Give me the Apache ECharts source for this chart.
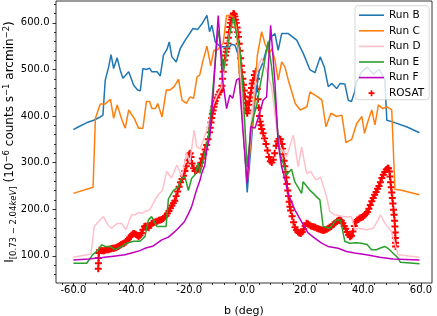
<!DOCTYPE html>
<html><head><meta charset="utf-8">
<script src="https://cdn.jsdelivr.net/npm/echarts@6/dist/echarts.min.js"></script>
<style>html,body{margin:0;padding:0;background:#fff}#c{width:437px;height:316px}</style>
</head><body><div id="c"></div>
<script>
const seriesNames = ['Run B','Run C','Run D','Run E','Run F','ROSAT'];
const xMajorTicks = [-60,-40,-20,0,20,40,60];
const xMinorTicks = [-64,-56,-52,-48,-44,-36,-32,-28,-24,-16,-12,-8,-4,4,8,12,16,24,28,32,36,44,48,52,56];
const yMajorTicks = [100,200,300,400,500,600];
const yMinorTicks = [60,80,120,140,160,180,220,240,260,280,320,340,360,380,420,440,460,480,520,540,560,580,620,640];
const xTitle = 'b (deg)';
const yTitle = '{m|I}{s|[0.73 \u2212 2.04}{si|keV}{s|]}{m| (10}{p|\u22126}{m| counts s}{p|\u22121}{m| arcmin}{p|\u22122}{m|)}';

const runB = [[-60,371],[-58.2,377],[-55.3,386],[-53,391],[-50.7,398],[-49.8,402],[-49,477],[-47.8,506],[-47,532],[-46.1,502],[-44.9,525],[-43.8,498],[-42.9,481],[-40.9,495],[-39.2,466],[-37.8,456],[-36.9,454],[-36,502],[-34.8,500],[-33.7,503],[-32.9,495],[-31.1,495],[-30,486],[-28.9,531],[-27.7,543],[-26.9,559],[-26,527],[-24.5,516],[-23.1,545],[-21.4,563],[-18.7,588],[-17.1,586],[-15.6,598],[-13.9,616],[-13,581],[-12.2,595],[-11,559],[-9.3,549],[-7.6,549],[-6,549],[-5.4,554],[-4.2,552],[-3.1,531],[-1.9,434],[0,236],[1.5,349],[2.7,434],[4.1,495],[5.5,516],[6.9,549],[8.2,570],[9.6,577],[10.7,541],[11.9,577],[13,577],[14.2,577],[17.1,563],[19.4,534],[21.7,499],[23.4,493],[25.2,527],[26.6,506],[28,463],[29.2,470],[30.9,459],[32.1,470],[33.7,469],[34.9,434],[36,431],[37.1,452],[37.7,473],[39.5,495],[41.5,505],[43.5,490],[45.5,500],[47.5,480],[48.2,391],[49.9,388],[55,377],[59.5,364]];
const runC = [[-60,234],[-53.2,247],[-52.4,395],[-50.7,426],[-49,426],[-47.2,436],[-46.1,395],[-44.9,424],[-43.2,391],[-42.1,374],[-40.9,413],[-39,395],[-37.5,374],[-36,374],[-34.8,431],[-33.7,431],[-32.9,416],[-31.7,416],[-30.9,427],[-29.4,398],[-27.9,456],[-26.6,456],[-25.2,463],[-23.7,479],[-22.5,434],[-21,427],[-19.7,441],[-18.5,438],[-17.3,484],[-16.4,488],[-15.3,518],[-13.9,550],[-12.6,508],[-11.5,541],[-10.4,541],[-8.3,556],[-7.1,616],[-6,616],[-4.8,613],[-3.7,591],[-2.2,440],[0,260],[2,400],[3.5,530],[5,581],[6.1,556],[7.6,534],[8.5,545],[9.6,520],[10.7,477],[11.9,516],[13,506],[14.2,477],[16.6,427],[18.3,413],[20.6,420],[21.7,452],[23.4,445],[24.6,440],[25.8,434],[27.2,377],[28.9,406],[30.9,399],[32.7,402],[34.1,343],[36.1,350],[37.8,384],[39.6,399],[40.5,363],[41.8,391],[43,413],[44.1,381],[45.3,424],[46.8,416],[48.2,420],[49.9,413],[51,243],[52.8,241],[59.5,231]];
const runD = [[-60,97],[-53.9,104],[-52.8,163],[-51.4,173],[-49.6,184],[-48.1,166],[-46.8,159],[-45,169],[-43.3,169],[-41.9,156],[-39.9,188],[-38.7,188],[-37.6,193],[-36.2,191],[-35.3,195],[-33.6,199],[-31.8,220],[-30.7,231],[-29.3,240],[-27.8,281],[-26.1,267],[-24.3,295],[-22.6,270],[-20.9,320],[-19.8,300],[-18.3,370],[-17.4,334],[-16.3,330],[-15,350],[-13.4,380],[-12,420],[-10.6,441],[-8.8,463],[-7.5,520],[-6,580],[-5,600],[-4,590],[-3,555],[-2,470],[-1,350],[0,280],[1,350],[2,430],[3,480],[4,510],[5,524],[6.5,500],[8.4,463],[10.1,377],[11.3,334],[13.6,313],[15.9,359],[17.6,291],[18.8,334],[20.5,277],[21.9,281],[23.7,263],[25.3,269],[27.4,227],[28.5,195],[30.2,188],[33.7,184],[36,184],[37.1,156],[38.3,159],[41.2,156],[43.5,159],[45.2,177],[46,188],[47.5,170],[49.8,152],[52.1,102],[59.5,97]];
const runE = [[-60,84],[-55.4,84],[-53.4,102],[-51.4,113],[-50.2,124],[-49.1,120],[-47.3,120],[-45.6,113],[-43.3,120],[-41.6,127],[-39.3,131],[-37,131],[-35.3,141],[-34.1,177],[-33,184],[-31.8,170],[-31.2,163],[-28,163],[-27.2,222],[-25.5,240],[-23.8,248],[-22.6,266],[-21.5,270],[-20.3,240],[-19.2,266],[-18,274],[-16.9,299],[-16.3,277],[-14.6,320],[-13.4,356],[-12.2,430],[-11,520],[-10,584],[-9.3,560],[-8.2,495],[-7,540],[-6,577],[-4.8,613],[-3.7,577],[-2.5,541],[-1.4,449],[0,290],[1.5,384],[3.2,420],[4.3,460],[5.5,499],[7.2,560],[8.4,506],[9.6,434],[10.7,356],[11.3,320],[12.4,299],[13.6,274],[15.3,286],[16.4,259],[18.8,234],[19.3,259],[21.6,241],[22.8,234],[23.9,227],[25.1,220],[26.2,163],[28.5,159],[30.8,177],[32.2,177],[33.7,131],[35.4,127],[37.7,128],[39.4,127],[41.4,124],[42.9,113],[44.6,113],[45.8,116],[47.5,120],[48.6,116],[50.3,106],[52.1,95],[52.9,86],[59.5,83]];
const runF = [[-60,91],[-54.8,93],[-50,96],[-46.1,99],[-42.2,102],[-39.3,107],[-37,111],[-35.3,116],[-32.4,121],[-29.5,134],[-27.2,140],[-25.5,149],[-23.8,159],[-21.7,173],[-20.3,190],[-19.2,205],[-17.4,243],[-16.3,262],[-15.7,277],[-14.6,295],[-14,327],[-12.9,356],[-11.8,440],[-10.8,540],[-10,616],[-8.5,477],[-7.1,416],[-6,445],[-5,438],[-3.7,477],[-2.8,481],[-1.4,363],[0,255],[1.2,377],[2.7,374],[4.1,402],[5.5,434],[6.7,441],[8.1,595],[9.6,470],[10.7,341],[11.9,291],[13,265],[14.1,234],[16.4,199],[18.8,173],[21,149],[23.3,138],[25.7,127],[27.9,120],[31.4,116],[34.3,109],[37.1,106],[41.2,102],[45.8,97],[50.3,93],[59.5,91]];
const rosat = [[-51.4,72],[-51.35,84],[-51.3,95],[-51.2,106],[-51,112],[-50.5,112],[-50,111],[-49.5,111],[-49,112],[-48.5,113],[-48,113],[-47.5,114],[-47,115],[-46.5,116],[-46,116],[-45.5,117],[-45,118],[-44.5,120],[-44,122],[-43.5,124],[-43,126],[-42.5,127],[-42,129],[-41.5,132],[-41,136],[-40.5,140],[-40,144],[-39.5,147],[-39,148],[-38.5,146],[-38,144],[-37.5,141],[-37,144],[-36.5,149],[-36,156],[-35.5,163],[-35,164],[-34.5,162],[-34,160],[-33.5,165],[-33,170],[-32.5,171],[-32,172],[-31.5,173],[-31,174],[-30.5,176],[-30,177],[-29.5,178],[-29,180],[-28.5,183],[-28,186],[-27.5,191],[-27,196],[-26.5,202],[-26,208],[-25.5,213],[-25,218],[-24.5,228],[-24,238],[-23.5,248],[-23,258],[-22.5,265],[-22,272],[-21.5,282],[-21,292],[-20.5,305],[-20,318],[-19.7,320],[-19.4,312],[-19,298],[-18.5,288],[-18,282],[-17.5,283],[-17,286],[-16.5,292],[-16,300],[-15.5,309],[-15,318],[-14.5,328],[-14,338],[-13.5,350],[-13,365],[-12.75,375],[-12.5,386],[-12.25,396],[-12,405],[-11.75,412],[-11.5,420],[-11.25,427],[-11,432],[-10.5,440],[-10,446],[-9.5,452],[-9,456],[-8.75,465],[-8.5,480],[-8.25,495],[-8,510],[-7.75,520],[-7.5,530],[-7.25,538],[-7,545],[-6.75,556],[-6.5,568],[-6.25,580],[-6,591],[-5.75,600],[-5.5,607],[-5.25,612],[-5,616],[-4.75,620],[-4.5,619],[-4.25,614],[-4,607],[-3.75,600],[-3.5,590],[-3.25,580],[-3,570],[-2.75,555],[-2.5,540],[-2.25,524],[-2,508],[-1.75,494],[-1.5,480],[-1.25,467],[-1,455],[-0.75,442],[-0.5,428],[-0.25,416],[0,406],[0.25,412],[0.5,424],[0.75,432],[1,440],[1.25,450],[1.5,460],[1.75,470],[2,477],[2.5,488],[3,496],[3.25,480],[3.5,458],[3.75,436],[4,418],[4.25,400],[4.5,388],[4.75,380],[5,372],[5.5,363],[6,352],[6.5,340],[7,326],[7.5,312],[8,303],[8.5,300],[9,306],[9.5,320],[10,336],[10.5,346],[11,351],[11.5,350],[12,340],[12.25,330],[12.5,318],[12.75,304],[13,292],[13.25,280],[13.5,268],[13.75,254],[14,240],[14.25,228],[14.5,216],[14.75,205],[15,197],[15.5,185],[16,172],[16.5,161],[17,155],[17.5,151],[18,149],[18.5,148],[19,151],[19.5,157],[20,164],[20.5,170],[21,168],[21.5,166],[22,164],[22.5,163],[23,162],[23.5,161],[24,159],[24.5,158],[25,157],[25.5,156],[26,155],[26.5,155],[27,156],[27.5,157],[28,159],[28.5,161],[29,163],[29.5,166],[30,168],[30.5,171],[31,174],[31.5,176],[32,177],[32.5,175],[33,170],[33.5,164],[34,158],[34.5,151],[35,145],[35.5,141],[36,143],[36.5,152],[37,164],[37.5,173],[38,177],[38.5,179],[39,181],[39.5,182],[40,184],[40.5,187],[41,190],[41.5,194],[42,201],[42.5,209],[43,217],[43.5,224],[44,231],[44.5,237],[45,244],[45.5,250],[46,258],[46.5,267],[47,274],[47.5,280],[48,285],[48.5,288],[48.8,288],[49.1,281],[49.3,270],[49.5,258],[49.7,247],[49.9,236],[50.1,224],[50.3,212],[50.5,199],[50.7,188],[50.9,175],[51,163],[51.1,150],[51.15,138],[51.2,128],[51.25,120]];

const FONT = 'DejaVu Sans';
const colors = ['#1f77b4','#ff7f0e','#ffc0cb','#2ca02c','#bf00bf','#ff0000'];
const plusPath = 'path://M3.6,0h2.8v3.6h3.6v2.8h-3.6v3.6h-2.8v-3.6h-3.6v-2.8h3.6z';
const lineIcon = 'path://M0,0H25V1.6H0Z';
const tickStyle = {color:'#000', width:0.8};

function lineSeries(i, data){
  return {type:'line', name:seriesNames[i], data:data, symbol:'none', showSymbol:false,
    lineStyle:{width:1.5, color:colors[i]}, itemStyle:{color:colors[i]}, z:3, animation:false};
}

const chart = echarts.init(document.getElementById('c'), null, {renderer:'canvas', width:437, height:316});
const gridRect = {left:56, right:5, top:1, bottom:33, containLabel:false, outerBoundsMode:'none'};
const xBase = {type:'value', min:-66, max:63.8, splitLine:{show:false}, axisLine:{show:false, onZero:false}};
const yBase = {type:'value', min:41.5, max:647, splitLine:{show:false}, axisLine:{show:false, onZero:false}};
chart.setOption({
  animation:false,
  backgroundColor:'#fff',
  grid:[
    Object.assign({show:true, borderColor:'#000', borderWidth:0.8}, gridRect),
    Object.assign({show:false}, gridRect)
  ],
  xAxis:[
    Object.assign({}, xBase, {gridIndex:0, position:'bottom',
      axisTick:{show:true, customValues:xMajorTicks, length:3.5, lineStyle:tickStyle},
      axisLabel:{show:true, customValues:xMajorTicks, formatter:v=>Number(v).toFixed(1), color:'#000', fontFamily:FONT, fontSize:10, margin:2},
      name:xTitle, nameLocation:'middle', nameGap:22.5, nameMoveOverlap:false,
      nameTextStyle:{fontFamily:FONT, fontSize:11, color:'#000'}}),
    Object.assign({}, xBase, {gridIndex:1, position:'bottom',
      axisTick:{show:true, customValues:xMinorTicks, length:2, lineStyle:tickStyle},
      axisLabel:{show:false}})
  ],
  yAxis:[
    Object.assign({}, yBase, {gridIndex:0, position:'left',
      axisTick:{show:true, customValues:yMajorTicks, length:3.5, lineStyle:tickStyle},
      axisLabel:{show:true, customValues:yMajorTicks, formatter:v=>Number(v).toFixed(1), color:'#000', fontFamily:FONT, fontSize:10, margin:6.5}}),
    Object.assign({}, yBase, {gridIndex:1, position:'left',
      axisTick:{show:true, customValues:yMinorTicks, length:2, lineStyle:tickStyle},
      axisLabel:{show:false}})
  ],
  graphic:[{
    type:'text', x:10, y:142, rotation:Math.PI/2, silent:true,
    style:{text:yTitle, align:'center', verticalAlign:'middle', fill:'#000', fontFamily:FONT, fontSize:12,
      rich:{
        m:{fontFamily:FONT, fontSize:12, fill:'#000', lineHeight:16},
        s:{fontFamily:FONT, fontSize:8.5, fill:'#000', lineHeight:9, verticalAlign:'bottom'},
        si:{fontFamily:FONT, fontSize:8.5, fontStyle:'italic', fill:'#000', lineHeight:9, verticalAlign:'bottom'},
        p:{fontFamily:FONT, fontSize:8.5, fill:'#000', lineHeight:9, verticalAlign:'top'}
      }}
  }],
  legend:{
    orient:'vertical', left:355, top:5.7, padding:[4,5,1,4], itemWidth:25, itemHeight:6, itemGap:4.6,
    data:seriesNames.map((n,i)=> i<5 ? {name:n, icon:lineIcon} : {name:n, icon:plusPath}),
    selectedMode:false,
    textStyle:{fontFamily:FONT, fontSize:10.5, color:'#000', lineHeight:10},
    backgroundColor:'rgba(255,255,255,0.8)', borderColor:'#cccccc', borderWidth:0.8, borderRadius:3, z:10
  },
  series:[
    lineSeries(0, runB), lineSeries(1, runC), lineSeries(2, runD), lineSeries(3, runE), lineSeries(4, runF),
    {type:'scatter', name:seriesNames[5], data:rosat, symbol:plusPath, symbolSize:7,
     itemStyle:{color:colors[5], opacity:1}, z:2, animation:false}
  ]
});
</script>
</body></html>
